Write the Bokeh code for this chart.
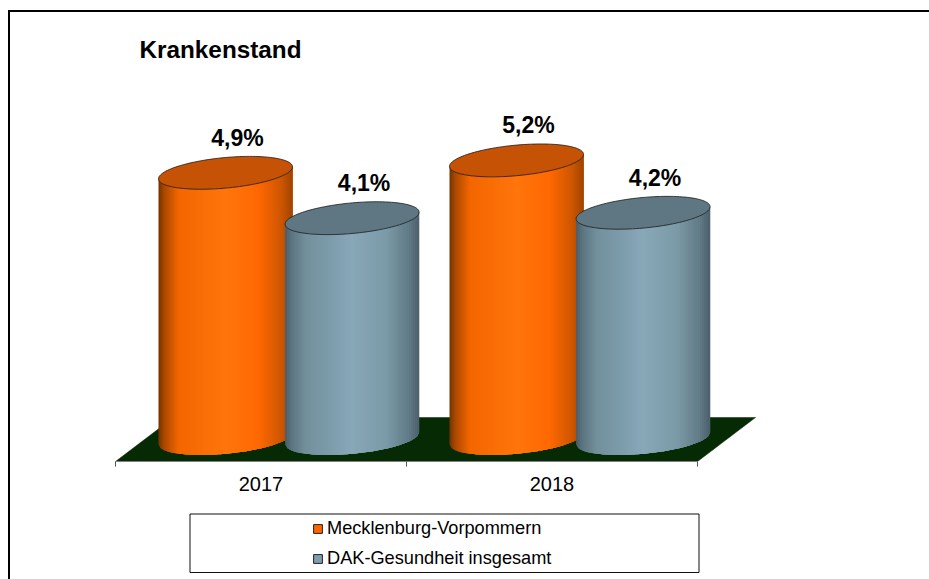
import numpy as np
from bokeh.embed import file_html
from bokeh.resources import INLINE
from bokeh.layouts import column
from bokeh.models import ColumnDataSource, FixedTicker, Label, Legend, LegendItem, LinearAxis, Range1d
from bokeh.plotting import figure
from bokeh.core.properties import value

categories = ["2017", "2018"]
series_names = ["Mecklenburg-Vorpommern", "DAK-Gesundheit insgesamt"]
mv_values = [4.92, 5.15]
dak_values = [4.08, 4.18]
mv_labels = ["4,9%", "5,2%"]
dak_labels = ["4,1%", "4,2%"]
title_text = "Krankenstand"

FONT = "Liberation Sans"
PX_X, PX_Y = 291.0, 54.0      # pixels per category / per percentage point
LEFT, TOP = 10, 12            # page position of the first canvas, inside the outer frame
W, H1, H2 = 919, 493, 74
x0_px, y0_px, floor_px = 115, 438, 461   # page pixels of x=0, y=0 and of the axis line

xr = Range1d((LEFT - x0_px) / PX_X, (LEFT + W - x0_px) / PX_X)
yr = Range1d(-(floor_px - y0_px) / PX_Y, (y0_px - TOP) / PX_Y)

p = figure(width=W, height=H1, x_range=xr, y_range=yr, output_backend="svg", toolbar_location=None,
           x_axis_type=None, y_axis_type=None, min_border_left=0, min_border_right=0,
           min_border_top=0, min_border_bottom=H1 - (floor_px - TOP),
           background_fill_color="white", border_fill_color="white", outline_line_color=None)
p.grid.visible = False

# floor
dx_back, y_back = 58 / PX_X, (y0_px - 417) / PX_Y
p.patch([0, 2, 2 + dx_back, dx_back], [yr.start, yr.start, y_back, y_back],
        fill_color="#062a04", line_color="#062a04", line_width=0.5)

# cylinder geometry
A = 67 / PX_X
B = 15.3 / PX_Y
S = 6 / PX_Y
OFFS = [-0.122, 0.313]
N = 67
u = np.linspace(-1, 1, N + 1)
STOPS = [0, 0.04, 0.15, 0.5, 0.75, 0.92, 1]
ORANGE = [(0x70, 0x32, 0x00), (0xA8, 0x48, 0x00), (0xF4, 0x66, 0x00), (0xFF, 0x76, 0x0C), (0xFF, 0x68, 0x02), (0xCC, 0x56, 0x00), (0xA0, 0x44, 0x00)]
SLATE = [(0x48, 0x5C, 0x68), (0x5A, 0x72, 0x7E), (0x72, 0x90, 0x9C), (0x88, 0xA8, 0xB9), (0x7C, 0x9B, 0xA8), (0x62, 0x7C, 0x88), (0x4C, 0x60, 0x6C)]


def shade(stops, t):
    c = [int(np.interp(t, STOPS, [s[k] for s in stops])) for k in range(3)]
    return "#%02x%02x%02x" % tuple(c)


def cylinder_parts(cx, v, stops):
    """Painter's-order strips: each runs on under the next ones, so no seams show."""
    xs, ys, cols = [], [], []
    front = S * u - B * np.sqrt(1 - u ** 2)
    for i in range(N):
        j = min(i + 4, N) + 1
        ux = cx + A * u[i:j]
        xs.append(np.concatenate([ux, ux[::-1]]))
        ys.append(np.concatenate([front[i:j], (v + front[i:j])[::-1]]))
        cols.append(shade(stops, (u[i] + u[i + 1] + 2) / 4))
    t = np.linspace(0, 2 * np.pi, 121)
    cap_x = cx + A * np.cos(t)
    cap_y = v + S * np.cos(t) + B * np.sin(t)
    return xs, ys, cols, cap_x, cap_y


series = [(mv_values, OFFS[0], ORANGE, "#c65206"), (dak_values, OFFS[1], SLATE, "#5f7783")]
for vals, off, stops, capc in series:
    for i, v in enumerate(vals):
        cx = i + 0.5 + off
        xs, ys, cols, cap_x, cap_y = cylinder_parts(cx, v, stops)
        p.patches(xs, ys, fill_color=cols, line_color=None)
        p.patch(cap_x, cap_y, fill_color=capc, line_color="#1a1a1a", line_width=0.8)

# value labels
for vals, labels, off in [(mv_values, mv_labels, OFFS[0]), (dak_values, dak_labels, OFFS[1])]:
    src = ColumnDataSource(dict(x=[i + 0.5 + off for i in range(len(vals))], y=vals, t=labels))
    p.text("x", "y", text="t", source=src, x_offset=12, y_offset=-35, text_align="center",
           text_baseline="middle", text_font=value(FONT), text_font_style="bold",
           text_font_size="23px", text_color="#000000")

# x axis
ax = LinearAxis(ticker=FixedTicker(ticks=[0.5, 1.5], minor_ticks=[0, 1, 2]), bounds=(0, 2),
                major_label_overrides={0.5: categories[0], 1.5: categories[1]})
ax.axis_line_color = "#808080"
ax.axis_line_width = 1
ax.major_tick_line_color = None
ax.minor_tick_line_color = "#555555"
ax.minor_tick_in = 0
ax.minor_tick_out = 5
ax.major_label_standoff = 9
ax.major_label_text_font = FONT
ax.major_label_text_font_size = "20px"
ax.major_label_text_color = "#000000"
p.add_layout(ax, "below")

# title
p.add_layout(Label(x=129, y=37, x_units="canvas", y_units="canvas", text=title_text, text_font=FONT,
                   text_font_style="bold", text_font_size="24.3px", text_color="#000000",
                   text_baseline="middle", text_align="left"))

# legend strip, in page pixels
q = figure(width=W, height=H2, x_range=Range1d(LEFT, LEFT + W), y_range=Range1d(TOP + H1 + H2, TOP + H1),
           output_backend="svg", toolbar_location=None, x_axis_type=None, y_axis_type=None,
           min_border=0, outline_line_color=None, background_fill_color="white", border_fill_color="white")
q.grid.visible = False
q.quad(left=[189.5], right=[698.5], top=[513.5], bottom=[572], fill_color="white", line_color="#111111", line_width=1)
# legend keys: each renderer holds one empty-sized box off the visible range, only its style is shown
swatches = [q.quad(left=[0], right=[0], top=[0], bottom=[0], fill_color=c, line_color="#222222", line_width=1)
            for c in ("#ff6600", "#7f9fb0")]
legend = Legend(items=[LegendItem(label=n, renderers=[r]) for n, r in zip(series_names, swatches)],
                location=(302, 10), orientation="vertical", background_fill_alpha=0, border_line_color=None,
                padding=0, margin=0, spacing=8, glyph_width=11, glyph_height=11, label_standoff=4,
                label_text_font=FONT, label_text_font_size="18.2px", label_text_color="#000000", label_height=22)
q.add_layout(legend)

page = column(p, q, spacing=0, margin=(10, 0, 0, 8),
              styles={"border-left": "2px solid #000000", "border-top": "2px solid #000000"})
open("out.html", "w").write(file_html(page, INLINE))
